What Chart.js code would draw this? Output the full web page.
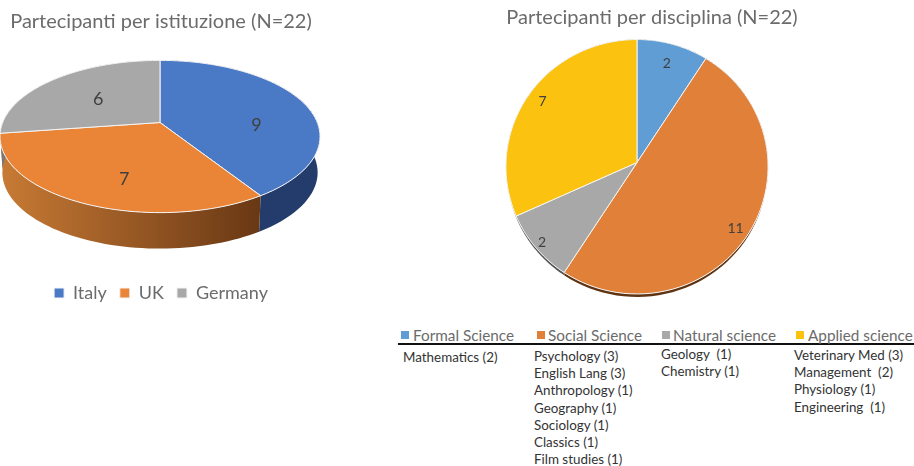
<!DOCTYPE html>
<html>
<head>
<meta charset="utf-8">
<title>Partecipanti</title>
<script src="https://cdn.jsdelivr.net/npm/chart.js@4"></script>
<style>
  html, body { margin: 0; background: #fff; overflow: hidden; }
  body { width: 914px; height: 466px; position: relative; font-family: Lato, sans-serif; }
  canvas { position: absolute; top: 0; }
  #rule { position: absolute; left: 398px; top: 343px; width: 516px; height: 2px; background: #111; }
  .head { position: absolute; top: 325px; font-size: 15.3px; line-height: 20px; color: #6b6b6b; white-space: nowrap; }
  .head i { position: absolute; top: 6px; width: 8px; height: 8px; }
  .cell { position: absolute; font-size: 13.4px; line-height: 17.2px; color: #333; white-space: pre; }
</style>
</head>
<body>
<canvas id="istituzione" width="322" height="312" style="left:0"></canvas>
<canvas id="disciplina" width="324" height="310" style="left:490px"></canvas>
<div id="rule"></div>
<div id="table"></div>
<script>
// Left chart
const institutions = ['Italy', 'UK', 'Germany'];
const institutionCounts = [9, 7, 6];
const institutionColors = ['#4a79c6', '#ea8538', '#a8a8a8'];
const institutionSides = [['#1f3560', '#243c6c'], ['#c77a34', '#683714'], ['#777777', '#777777']];

// Right chart
const disciplines = ['Formal Science', 'Social Science', 'Natural science', 'Applied science'];
const disciplineCounts = [2, 11, 2, 7];
const disciplineColors = ['#5f9dd4', '#e08039', '#a8a8a8', '#fbc30f'];
const disciplineSides = [['#3a6a94', '#3a6a94'], ['#5e3412', '#5e3412'], ['#555555', '#555555'], ['#a07c08', '#a07c08']];

// Table under the right chart
const subjects = [
  ['Mathematics (2)'],
  ['Psychology (3)', 'English Lang (3)', 'Anthropology (1)', 'Geography (1)', 'Sociology (1)', 'Classics (1)', 'Film studies (1)'],
  ['Geology  (1)', 'Chemistry (1)'],
  ['Veterinary Med (3)', 'Management  (2)', 'Physiology (1)', 'Engineering  (1)']
];
const swatchX = [401, 537, 662, 796];
const headX = [413, 548, 673, 808];
const cellX = [403, 534, 661, 794];
const cellY = [349, 348, 346, 347];

// Tilted pie: the arcs come from Chart.js, this only projects them onto a tilted disc
const tiltedPie = {
  id: 'tiltedPie',
  beforeDatasetsDraw(chart, args, opts) {
    const ctx = chart.ctx;
    const arcs = chart.getDatasetMeta(0).data;
    const cx = arcs[0].x + opts.shiftX;
    const cy = arcs[0].y + opts.shiftY;
    const rx = arcs[0].outerRadius;
    const ry = rx * opts.tilt;

    function project(angle, frac) {
      const u = frac * Math.cos(angle);
      const v = frac * Math.sin(angle);
      const w = 1 - opts.perspective * v;
      return { x: cx + rx * u / w, y: cy + ry * v / w };
    }

    function rim(arc, reverse, dy, sx) {
      const steps = 60;
      const pts = [];
      for (let i = 0; i <= steps; i++) {
        const a = arc.startAngle + (arc.endAngle - arc.startAngle) * i / steps;
        const p = project(a, 1);
        pts.push({ x: cx + (p.x - cx) * sx, y: p.y + dy });
      }
      return reverse ? pts.reverse() : pts;
    }

    // side wall first, top face covers whatever is behind it
    arcs.forEach((arc, i) => {
      const grad = ctx.createLinearGradient(cx - rx, 0, cx + rx * 0.65, 0);
      grad.addColorStop(0, opts.sides[i][0]);
      grad.addColorStop(1, opts.sides[i][1]);
      ctx.beginPath();
      rim(arc, false, 0, 1).forEach((p, n) => n ? ctx.lineTo(p.x, p.y) : ctx.moveTo(p.x, p.y));
      rim(arc, true, opts.depth, opts.wallScale).forEach(p => ctx.lineTo(p.x, p.y));
      ctx.closePath();
      ctx.fillStyle = grad;
      ctx.fill();
    });

    arcs.forEach(arc => {
      const apex = project(0, 0);
      ctx.beginPath();
      ctx.moveTo(apex.x, apex.y);
      rim(arc, false, 0, 1).forEach(p => ctx.lineTo(p.x, p.y));
      ctx.closePath();
      ctx.fillStyle = arc.options.backgroundColor;
      ctx.fill();
      ctx.lineWidth = arc.options.borderWidth;
      ctx.strokeStyle = arc.options.borderColor;
      ctx.stroke();
    });

    // value labels
    ctx.font = opts.labelFont;
    ctx.fillStyle = '#404040';
    ctx.textAlign = 'center';
    ctx.textBaseline = 'middle';
    arcs.forEach((arc, i) => {
      const mid = (arc.startAngle + arc.endAngle) / 2 + opts.labelShift[i] * Math.PI / 180;
      const p = project(mid, opts.labelFrac[i]);
      ctx.fillText(chart.data.datasets[0].data[i], p.x, p.y);
    });
    return false;
  }
};

function titleOptions(text, top) {
  return {
    display: true,
    text: text,
    color: '#6b6b6b',
    font: { family: 'Lato', size: 20, weight: 'normal' },
    padding: { top: top, bottom: 8 }
  };
}

function buildChart(id, labels, values, colors, radius, legend, title, tilted) {
  new Chart(document.getElementById(id), {
    type: 'pie',
    data: {
      labels: labels,
      datasets: [{ data: values, backgroundColor: colors, borderColor: '#f4f4f4', borderWidth: 1 }]
    },
    options: {
      responsive: false,
      animation: false,
      radius: radius,
      plugins: {
        title: title,
        legend: legend,
        tooltip: { enabled: false },
        tiltedPie: tilted
      }
    },
    plugins: [tiltedPie]
  });
}

buildChart('istituzione', institutions, institutionCounts, institutionColors, 157.3, {
  position: 'bottom',
  labels: {
    boxWidth: 10, boxHeight: 10, padding: 13, color: '#6b6b6b',
    font: { family: 'Lato', size: 18 }
  }
}, titleOptions('Partecipanti per istituzione (N=22)', 10), {
  tilt: 0.4675, perspective: 0.184, depth: 36, wallScale: 0.985, shiftX: -1, shiftY: -34,
  sides: institutionSides,
  labelFont: '18px Lato', labelFrac: [0.61, 0.7, 0.54], labelShift: [20, -8, -1.5]
});

buildChart('disciplina', disciplines, disciplineCounts, disciplineColors, 131, { display: false },
  titleOptions('Partecipanti per disciplina (N=22)', 6), {
  tilt: 0.97, perspective: 0.0334, depth: 3, wallScale: 0.995, shiftX: -15, shiftY: -11.5,
  sides: disciplineSides,
  labelFont: '14px Lato', labelFrac: [0.83, 0.9, 0.94, 0.88], labelShift: [0, 2, 0, 1]
});

// Legend row and list of subjects
const table = document.getElementById('table');
disciplines.forEach((name, i) => {
  const head = document.createElement('div');
  head.className = 'head';
  head.style.left = headX[i] + 'px';
  head.textContent = name;
  const box = document.createElement('i');
  box.style.left = (swatchX[i] - headX[i]) + 'px';
  box.style.background = disciplineColors[i];
  head.appendChild(box);
  table.appendChild(head);

  const cell = document.createElement('div');
  cell.className = 'cell';
  cell.style.left = cellX[i] + 'px';
  cell.style.top = cellY[i] + 'px';
  cell.textContent = subjects[i].join('\n');
  table.appendChild(cell);
});
</script>
</body>
</html>
